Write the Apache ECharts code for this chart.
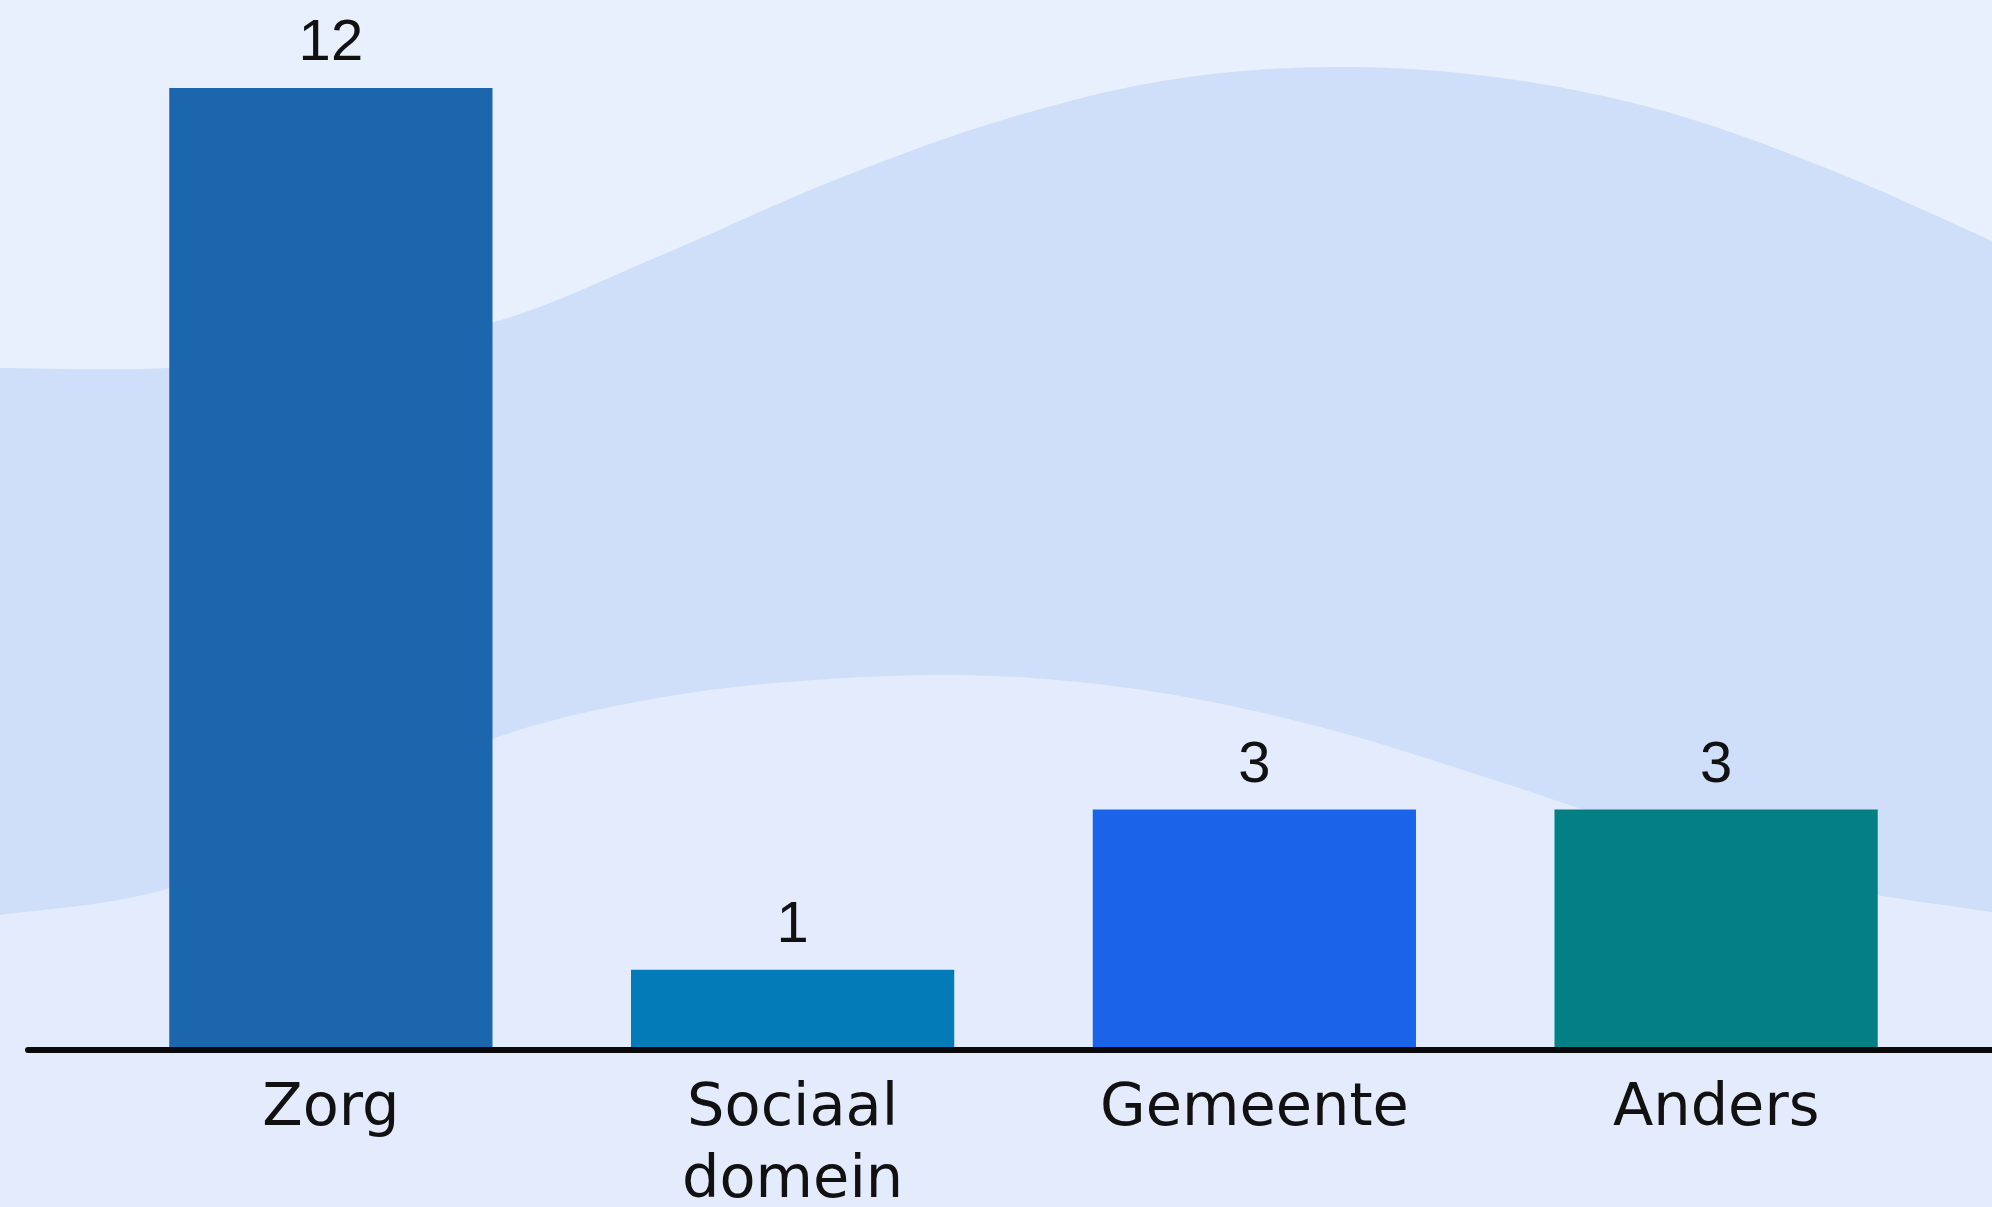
<!DOCTYPE html>
<html>
<head>
<meta charset="utf-8">
<script src="https://cdn.jsdelivr.net/npm/echarts@6/dist/echarts.min.js"></script>
<style>
html,body{margin:0;padding:0;background:#e9f0fd;}
#chart{width:1992px;height:1207px;}
</style>
</head>
<body>
<div id="chart"></div>
<script>
// ---- data ----
const categories = ['Zorg', 'Sociaal domein', 'Gemeente', 'Anders'];
const values = [12, 1, 3, 3];
// ---- styling ----
const barColors = ['#1c66ad', '#037bb8', '#1a64ea', '#028086'];

const W = 1992, H = 1207;
// decorative background wave edges (sampled every 166px)
const upperEdge = [[0,368],[166,368],[332,350],[498,321],[664,254],[830,182],[996,122],[1162,81],[1328,67],[1494,77],[1660,110],[1826,168],[1992,241]];
const lowerEdge = [[0,915],[166,889],[332,813],[498,737],[664,697],[830,679],[996,676],[1162,693],[1328,729],[1494,780],[1660,835],[1826,885],[1992,912]];

function smoothPoly(pts) {
  const out = [];
  for (let i = 0; i < pts.length - 1; i++) {
    const p0 = pts[Math.max(0, i - 1)], p1 = pts[i], p2 = pts[i + 1], p3 = pts[Math.min(pts.length - 1, i + 2)];
    const c1 = [p1[0] + (p2[0] - p0[0]) / 6, p1[1] + (p2[1] - p0[1]) / 6];
    const c2 = [p2[0] - (p3[0] - p1[0]) / 6, p2[1] - (p3[1] - p1[1]) / 6];
    for (let s = 0; s < 20; s++) {
      const t = s / 20, u = 1 - t;
      out.push([
        u*u*u*p1[0] + 3*u*u*t*c1[0] + 3*u*t*t*c2[0] + t*t*t*p2[0],
        u*u*u*p1[1] + 3*u*u*t*c1[1] + 3*u*t*t*c2[1] + t*t*t*p2[1]
      ]);
    }
  }
  out.push(pts[pts.length - 1]);
  out.push([W, H]);
  out.push([0, H]);
  return out;
}

const chart = echarts.init(document.getElementById('chart'), null, {renderer: 'canvas'});
chart.setOption({
  backgroundColor: '#e9f0fd',
  animation: false,
  graphic: [
    {type: 'polygon', z: -10, silent: true, shape: {points: smoothPoly(upperEdge)}, style: {fill: '#cfdef9'}},
    {type: 'polygon', z: -9, silent: true, shape: {points: smoothPoly(lowerEdge)}, style: {fill: '#e3ebfd'}}
  ],
  grid: [
    {left: 100, right: 45, top: 88, bottom: 157, containLabel: false, outerBoundsMode: 'none'},
    {left: 28, right: 0, top: 88, bottom: 157, containLabel: false, outerBoundsMode: 'none'}
  ],
  xAxis: [
    {
      type: 'category', gridIndex: 0, data: categories,
      axisLine: {show: false}, axisTick: {show: false},
      axisLabel: {
        color: '#111', fontFamily: 'DejaVu Sans', fontSize: 59, lineHeight: 72,
        margin: 24, interval: 0,
        formatter: v => v.replace(' ', '\n')
      }
    },
    {
      type: 'category', gridIndex: 1, data: [''], z: 5,
      axisLine: {show: true, lineStyle: {color: '#0a0a0a', width: 6, cap: 'round'}},
      axisTick: {show: false}, axisLabel: {show: false}
    }
  ],
  yAxis: [
    {type: 'value', gridIndex: 0, min: 0, max: 12, show: false, splitLine: {show: false}},
    {type: 'value', gridIndex: 1, min: 0, max: 12, show: false, splitLine: {show: false}}
  ],
  series: [{
    type: 'bar', xAxisIndex: 0, yAxisIndex: 0,
    barCategoryGap: '30%',
    data: values.map((v, i) => ({value: v, itemStyle: {color: barColors[i]}})),
    label: {
      show: true, position: 'top', distance: 15,
      color: '#111', fontFamily: 'Liberation Sans', fontSize: 58
    }
  }]
});
</script>
</body>
</html>
